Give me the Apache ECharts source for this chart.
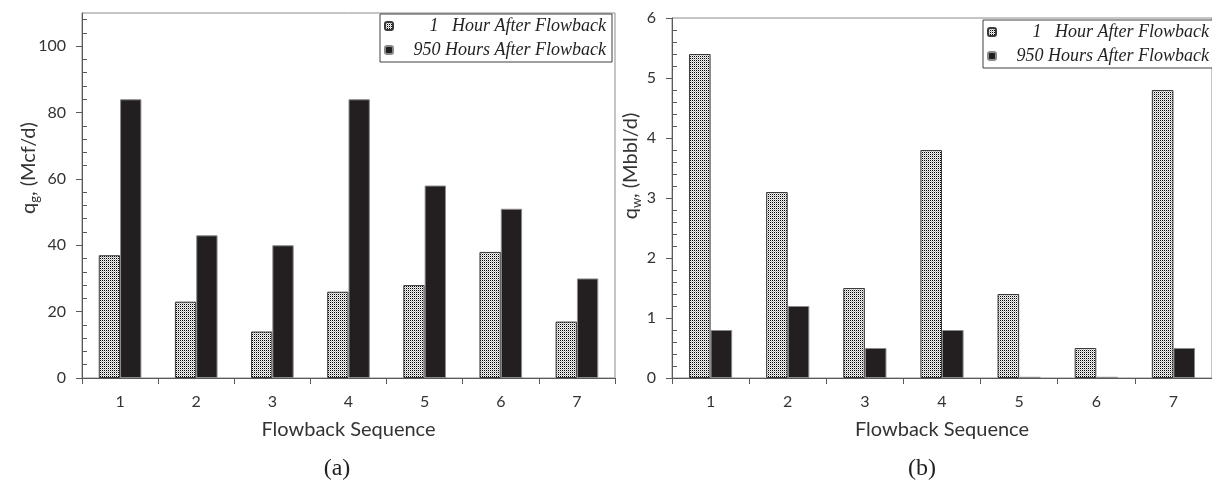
<!DOCTYPE html>
<html>
<head>
<meta charset="utf-8">
<script src="https://cdn.jsdelivr.net/npm/echarts@6/dist/echarts.min.js"></script>
<style>
  html, body { margin: 0; padding: 0; background: #fff; }
  #chart { width: 1212px; height: 493px; }
</style>
</head>
<body>
<div id="chart"></div>
<script>
// Flowback sequences on the category axis
const categories = ['1', '2', '3', '4', '5', '6', '7'];
const seriesNames = ['1   Hour After Flowback', '950 Hours After Flowback'];

// (a) gas rate, Mcf/d
const gasEarly = [37, 23, 14, 26, 28, 38, 17];
const gasLate = [84, 43, 40, 84, 58, 51, 30];

// (b) water rate, Mbbl/d
const waterEarly = [5.4, 3.1, 1.5, 3.8, 1.4, 0.5, 4.8];
const waterLate = [0.8, 1.2, 0.5, 0.8, 0.02, 0.02, 0.5];

// labelled axis ticks
const gasTicks = [0, 20, 40, 60, 80, 100];
const waterTicks = [0, 1, 2, 3, 4, 5, 6];

// minor ticks sit between the labelled ones
function minorBetween(major, step, top) {
  const out = [];
  for (let v = step; v < top + 1e-9; v += step) {
    const r = Math.round(v * 1000) / 1000;
    if (!major.some(m => Math.abs(m - r) < 1e-6)) out.push(r);
  }
  return out;
}
const gasMinor = minorBetween(gasTicks, 4, 110);
const waterMinor = minorBetween(waterTicks, 0.2, 6);

// fine stipple fill for the early-time bars
const stipple = document.createElement('canvas');
stipple.width = 2; stipple.height = 2;
const sctx = stipple.getContext('2d');
sctx.fillStyle = '#f4f4f4'; sctx.fillRect(0, 0, 2, 2);
sctx.fillStyle = '#000000'; sctx.fillRect(0, 0, 1, 1);
sctx.fillStyle = '#b8b8b8'; sctx.fillRect(1, 1, 1, 1);
const stippleFill = { image: stipple, repeat: 'repeat' };

const axisColor = '#595959';
const frameColor = '#8c8c8c';
const sans = 'Lato';

function legendFor(pos) {
  return Object.assign({
    orient: 'vertical',
    itemWidth: 8, itemHeight: 8, itemGap: 6,
    padding: [3, 6, 3, 4],
    borderColor: '#404040', borderWidth: 1,
    backgroundColor: '#ffffff',
    selectedMode: false,
    data: seriesNames,
    formatter: n => '{t|' + n + '}',
    textStyle: {
      rich: {
        t: {
          width: 208, align: 'right', lineHeight: 24,
          fontFamily: 'Liberation Serif', fontStyle: 'italic',
          fontSize: 18, color: '#231f20'
        }
      }
    }
  }, pos);
}

function xAxisFor(i) {
  return {
    type: 'category', gridIndex: i, data: categories,
    axisLine: { lineStyle: { color: axisColor, width: 1 } },
    axisTick: { show: true, length: 6, lineStyle: { color: axisColor } },
    axisLabel: { fontFamily: sans, fontSize: 16, color: '#333', margin: 16 },
    name: 'Flowback Sequence', nameLocation: 'middle', nameGap: 42,
    nameTextStyle: { fontFamily: sans, fontSize: 20, color: '#333' }
  };
}

function majorY(i, max, interval, ticks) {
  return {
    type: 'value', gridIndex: i, position: 'left', min: 0, max: max, interval: interval,
    splitLine: { show: false },
    axisLine: { show: true, lineStyle: { color: axisColor } },
    axisTick: { show: true, length: 6, customValues: ticks, lineStyle: { color: axisColor } },
    axisLabel: { customValues: ticks, fontFamily: sans, fontSize: 16, color: '#333', margin: 16 }
  };
}

function minorY(i, max, interval, ticks) {
  return {
    type: 'value', gridIndex: i, position: 'left', min: 0, max: max, interval: interval,
    splitLine: { show: false },
    axisLine: { show: false },
    axisLabel: { show: false },
    axisTick: { show: true, inside: true, length: 5, customValues: ticks, lineStyle: { color: axisColor } }
  };
}

function barPair(xi, yi, early, late) {
  return [
    {
      name: seriesNames[0], type: 'bar', xAxisIndex: xi, yAxisIndex: yi,
      data: early, barWidth: '28%', barGap: '0%',
      itemStyle: { color: stippleFill, borderColor: '#3a3a3a', borderWidth: 1 }
    },
    {
      name: seriesNames[1], type: 'bar', xAxisIndex: xi, yAxisIndex: yi,
      data: late, barWidth: '28%', barGap: '0%',
      itemStyle: { color: '#231f20', borderColor: '#8a8a8a', borderWidth: 1 }
    }
  ];
}

const chart = echarts.init(document.getElementById('chart'), null, { renderer: 'canvas' });

const subRich = {
  m: { fontFamily: sans, fontSize: 20, lineHeight: 24, fill: '#333' },
  s: { fontFamily: sans, fontSize: 13, lineHeight: 24, verticalAlign: 'bottom', padding: [8, 0, 0, 0], fill: '#333' }
};

chart.setOption({
  animation: false,
  backgroundColor: '#ffffff',
  grid: [
    { left: 82, top: 13, width: 533, height: 365, show: true, borderColor: frameColor, borderWidth: 1, backgroundColor: 'transparent' },
    { left: 672, top: 18, width: 550, height: 360, show: true, borderColor: frameColor, borderWidth: 1, backgroundColor: 'transparent' }
  ],
  legend: [
    legendFor({ right: 600, top: 14 }),
    legendFor({ left: 983, top: 20 })
  ],
  xAxis: [xAxisFor(0), xAxisFor(1)],
  yAxis: [
    majorY(0, 110, 20, gasTicks),
    minorY(0, 110, 4, gasMinor),
    majorY(1, 6, 1, waterTicks),
    minorY(1, 6, 0.2, waterMinor)
  ],
  series: [].concat(
    barPair(0, 0, gasEarly, gasLate),
    barPair(1, 2, waterEarly, waterLate)
  ),
  graphic: [
    {
      type: 'text', x: 29, y: 168, rotation: Math.PI / 2,
      style: { text: '{m|q}{s|g}{m|, (Mcf/d)}', align: 'center', verticalAlign: 'middle', rich: subRich }
    },
    {
      type: 'text', x: 631, y: 166, rotation: Math.PI / 2,
      style: { text: '{m|q}{s|w}{m|, (Mbbl/d)}', align: 'center', verticalAlign: 'middle', rich: subRich }
    },
    {
      type: 'text', x: 337, y: 469,
      style: { text: '(a)', align: 'center', verticalAlign: 'middle', fontFamily: 'Liberation Serif', fontSize: 24, fill: '#222' }
    },
    {
      type: 'text', x: 922, y: 469,
      style: { text: '(b)', align: 'center', verticalAlign: 'middle', fontFamily: 'Liberation Serif', fontSize: 24, fill: '#222' }
    }
  ]
});
</script>
</body>
</html>
